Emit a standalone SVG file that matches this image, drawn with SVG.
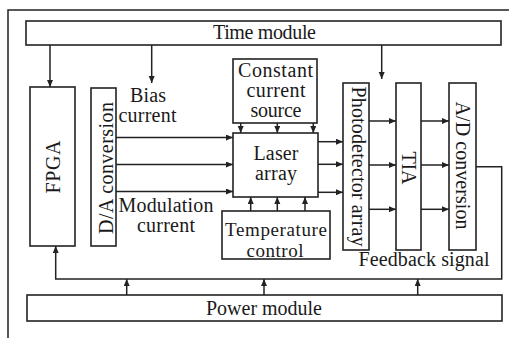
<svg xmlns="http://www.w3.org/2000/svg" width="519" height="338" viewBox="0 0 519 338">
<style>
.box{fill:#fff;stroke:#222;stroke-width:1.6}
.ln{fill:none;stroke:#222;stroke-width:1.5}
.t{font-family:"Liberation Serif","Times New Roman",serif;font-size:20px;fill:#1a1a1a;text-anchor:middle}
.s{font-size:19px}
</style>
<defs>
<marker id="ah" markerUnits="userSpaceOnUse" markerWidth="8" markerHeight="7" refX="7" refY="3" orient="auto">
<path d="M0,0 L7,3 L0,6 z" fill="#222"/>
</marker>
</defs>
<rect width="519" height="338" fill="#fff"/>
<path class="ln" d="M8,338 V10 H509"/>
<g id="time"><rect class="box" x="26" y="21" width="475" height="24"/><text class="t" x="264.5" y="38.5" textLength="103">Time module</text></g>
<g id="fpga"><rect class="box" x="30" y="87" width="45" height="159"/><text class="t" transform="translate(59.5,167) rotate(-90)" textLength="53">FPGA</text></g>
<g id="da"><rect class="box" x="91" y="88" width="25" height="158"/><text class="t" transform="translate(112.5,168) rotate(-90)" textLength="132">D/A conversion</text></g>
<g id="ccs"><rect class="box" x="233" y="59" width="84" height="64"/><text class="t" x="275.5" y="76.5" textLength="75">Constant</text><text class="t" x="276" y="97" textLength="59">current</text><text class="t" x="276" y="117" textLength="51">source</text></g>
<g id="laser"><rect class="box" x="233" y="133" width="85" height="64"/><text class="t" x="276" y="160" textLength="45">Laser</text><text class="t" x="276" y="180" textLength="42">array</text></g>
<g id="temp"><rect class="box" x="222" y="211" width="108" height="48"/><text class="t s" x="276" y="235.5" textLength="102">Temperature</text><text class="t s" x="275" y="256.5" textLength="57">control</text></g>
<g id="pd"><rect class="box" x="343" y="83" width="26" height="167"/><text class="t" transform="translate(351.5,166.5) rotate(90)" textLength="160">Photodetector array</text></g>
<g id="tia"><rect class="box" x="396" y="83" width="25" height="167"/><text class="t" transform="translate(402,168) rotate(90)" textLength="33">TIA</text></g>
<g id="ad"><rect class="box" x="449" y="83" width="27" height="167"/><text class="t" transform="translate(456,165.5) rotate(90)" textLength="128">A/D conversion</text></g>
<g id="power"><rect class="box" x="27" y="295" width="475" height="26"/><text class="t" x="264" y="314.5" textLength="116">Power module</text></g>
<g id="labels">
<text class="t" x="148" y="101.5" textLength="36">Bias</text>
<text class="t" x="147.5" y="121.5" textLength="58">current</text>
<text class="t" x="166" y="211.5" textLength="95">Modulation</text>
<text class="t" x="166" y="231.5" textLength="58">current</text>
<text class="t" x="424" y="266" textLength="131">Feedback signal</text>
</g>
<g id="connectors">
<path class="ln" marker-end="url(#ah)" d="M50,45 V87"/>
<path class="ln" marker-end="url(#ah)" d="M151.7,45 V83"/>
<path class="ln" marker-end="url(#ah)" d="M381.7,45 V79"/>
<path class="ln" marker-end="url(#ah)" d="M116,137.5 H233"/>
<path class="ln" marker-end="url(#ah)" d="M116,164.5 H233"/>
<path class="ln" marker-end="url(#ah)" d="M116,191.5 H233"/>
<path class="ln" marker-end="url(#ah)" d="M240.7,123 V133"/>
<path class="ln" marker-end="url(#ah)" d="M277.3,123 V133"/>
<path class="ln" marker-end="url(#ah)" d="M313.3,123 V133"/>
<path class="ln" marker-end="url(#ah)" d="M250.7,211 V197"/>
<path class="ln" marker-end="url(#ah)" d="M277.3,211 V197"/>
<path class="ln" marker-end="url(#ah)" d="M305,211 V197"/>
<path class="ln" marker-end="url(#ah)" d="M318,141.7 H343"/>
<path class="ln" marker-end="url(#ah)" d="M318,164.3 H343"/>
<path class="ln" marker-end="url(#ah)" d="M318,192.3 H343"/>
<path class="ln" marker-end="url(#ah)" d="M369,121 H396"/>
<path class="ln" marker-end="url(#ah)" d="M369,165 H396"/>
<path class="ln" marker-end="url(#ah)" d="M369,209.3 H396"/>
<path class="ln" marker-end="url(#ah)" d="M421,121 H449"/>
<path class="ln" marker-end="url(#ah)" d="M421,165 H449"/>
<path class="ln" marker-end="url(#ah)" d="M421,209.3 H449"/>
<path class="ln" marker-end="url(#ah)" d="M476,166.7 H501.7 V279 H55.7 V246"/>
<path class="ln" marker-end="url(#ah)" d="M126.7,295 V279"/>
<path class="ln" marker-end="url(#ah)" d="M264,295 V279"/>
<path class="ln" marker-end="url(#ah)" d="M417.7,295 V279"/>
</g>
</svg>
